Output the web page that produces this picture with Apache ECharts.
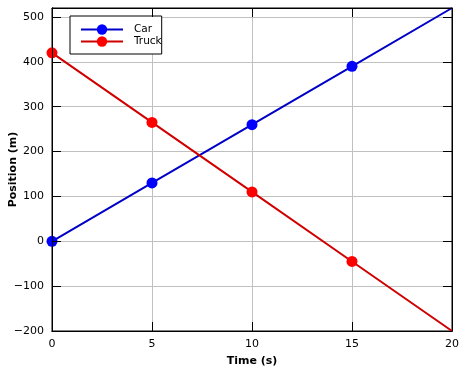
<!DOCTYPE html>
<html><head><meta charset="utf-8">
<script src="https://cdn.jsdelivr.net/npm/echarts@6/dist/echarts.min.js"></script>
<style>html,body{margin:0;padding:0;background:#fff}#c{width:474px;height:377px}</style>
</head><body><div id="c"></div>
<script>
const times = [0, 5, 10, 15, 20];
const carPos = [0, 130, 260, 390, 520];
const truckPos = [420, 265, 110, -45, -200];
const seriesNames = ['Car', 'Truck'];
const xTicks = [0, 5, 10, 15, 20];
const yTicks = [-200, -100, 0, 100, 200, 300, 400, 500];

const font = 'DejaVu Sans';
const chart = echarts.init(document.getElementById('c'));
function mk(vals, lineColor, markColor, name) {
  return {
    name: name, type: 'line', xAxisIndex: 0, yAxisIndex: 0,
    data: times.map((t, i) => ({value: [t, vals[i]], symbolSize: i === times.length - 1 ? 0 : 11})),
    symbol: 'circle', symbolSize: 11,
    lineStyle: {color: lineColor, width: 2},
    itemStyle: {color: markColor},
    animation: false, z: 3
  };
}
const xBase = {type: 'value', min: 0, max: 20, interval: 5};
const yBase = {type: 'value', min: -200, max: 520, interval: 100};
const tickOnly = {
  z: 5, axisLine: {show: true, onZero: false, lineStyle: {color: '#000'}},
  axisTick: {show: true, inside: true, length: 9, lineStyle: {color: '#000'}},
  axisLabel: {show: false}, splitLine: {show: false}
};
chart.setOption({
  animation: false,
  grid: {left: 52, right: 22, top: 8, bottom: 46, show: true, borderColor: '#000', borderWidth: 1,
    containLabel: false, outerBoundsMode: 'none'},
  legend: {
    left: 70, top: 16, orient: 'vertical', itemGap: 1, itemWidth: 42, itemHeight: 13,
    padding: [8, 0, 7, 10], borderColor: '#000', borderWidth: 1, backgroundColor: '#fff',
    borderRadius: 0,
    textStyle: {fontFamily: font, fontSize: 10.5, color: '#000', padding: [0, 0, 0, 6]},
    data: seriesNames
  },
  xAxis: [
    Object.assign({}, xBase, {
      position: 'bottom',
      name: 'Time (s)', nameLocation: 'middle', nameGap: 25,
      nameTextStyle: {fontFamily: font, fontSize: 11, fontWeight: 'bold', color: '#000'},
      axisLine: {onZero: false, lineStyle: {color: '#000'}},
      axisTick: {show: false},
      axisLabel: {fontFamily: font, fontSize: 11, color: '#000', margin: 8},
      splitLine: {lineStyle: {color: '#c0c0c0'}}
    }),
    Object.assign({}, xBase, tickOnly, {position: 'bottom'}),
    Object.assign({}, xBase, tickOnly, {position: 'top'})
  ],
  yAxis: [
    Object.assign({}, yBase, {
      position: 'left',
      name: 'Position (m)', nameLocation: 'middle', nameGap: 33, nameMoveOverlap: false,
      nameTextStyle: {fontFamily: font, fontSize: 11, fontWeight: 'bold', color: '#000'},
      axisLine: {show: true, onZero: false, lineStyle: {color: '#000'}},
      axisTick: {show: false},
      axisLabel: {fontFamily: font, fontSize: 11, color: '#000', margin: 8, showMaxLabel: false,
        formatter: v => (v < 0 ? '\u2212' + Math.abs(v) : '' + v)},
      splitLine: {lineStyle: {color: '#c0c0c0'}}
    }),
    Object.assign({}, yBase, tickOnly, {position: 'left'}),
    Object.assign({}, yBase, tickOnly, {position: 'right'})
  ],
  series: [
    mk(carPos, '#0000c8', '#0000ff', seriesNames[0]),
    mk(truckPos, '#d00000', '#ff0000', seriesNames[1])
  ]
});
</script></body></html>
